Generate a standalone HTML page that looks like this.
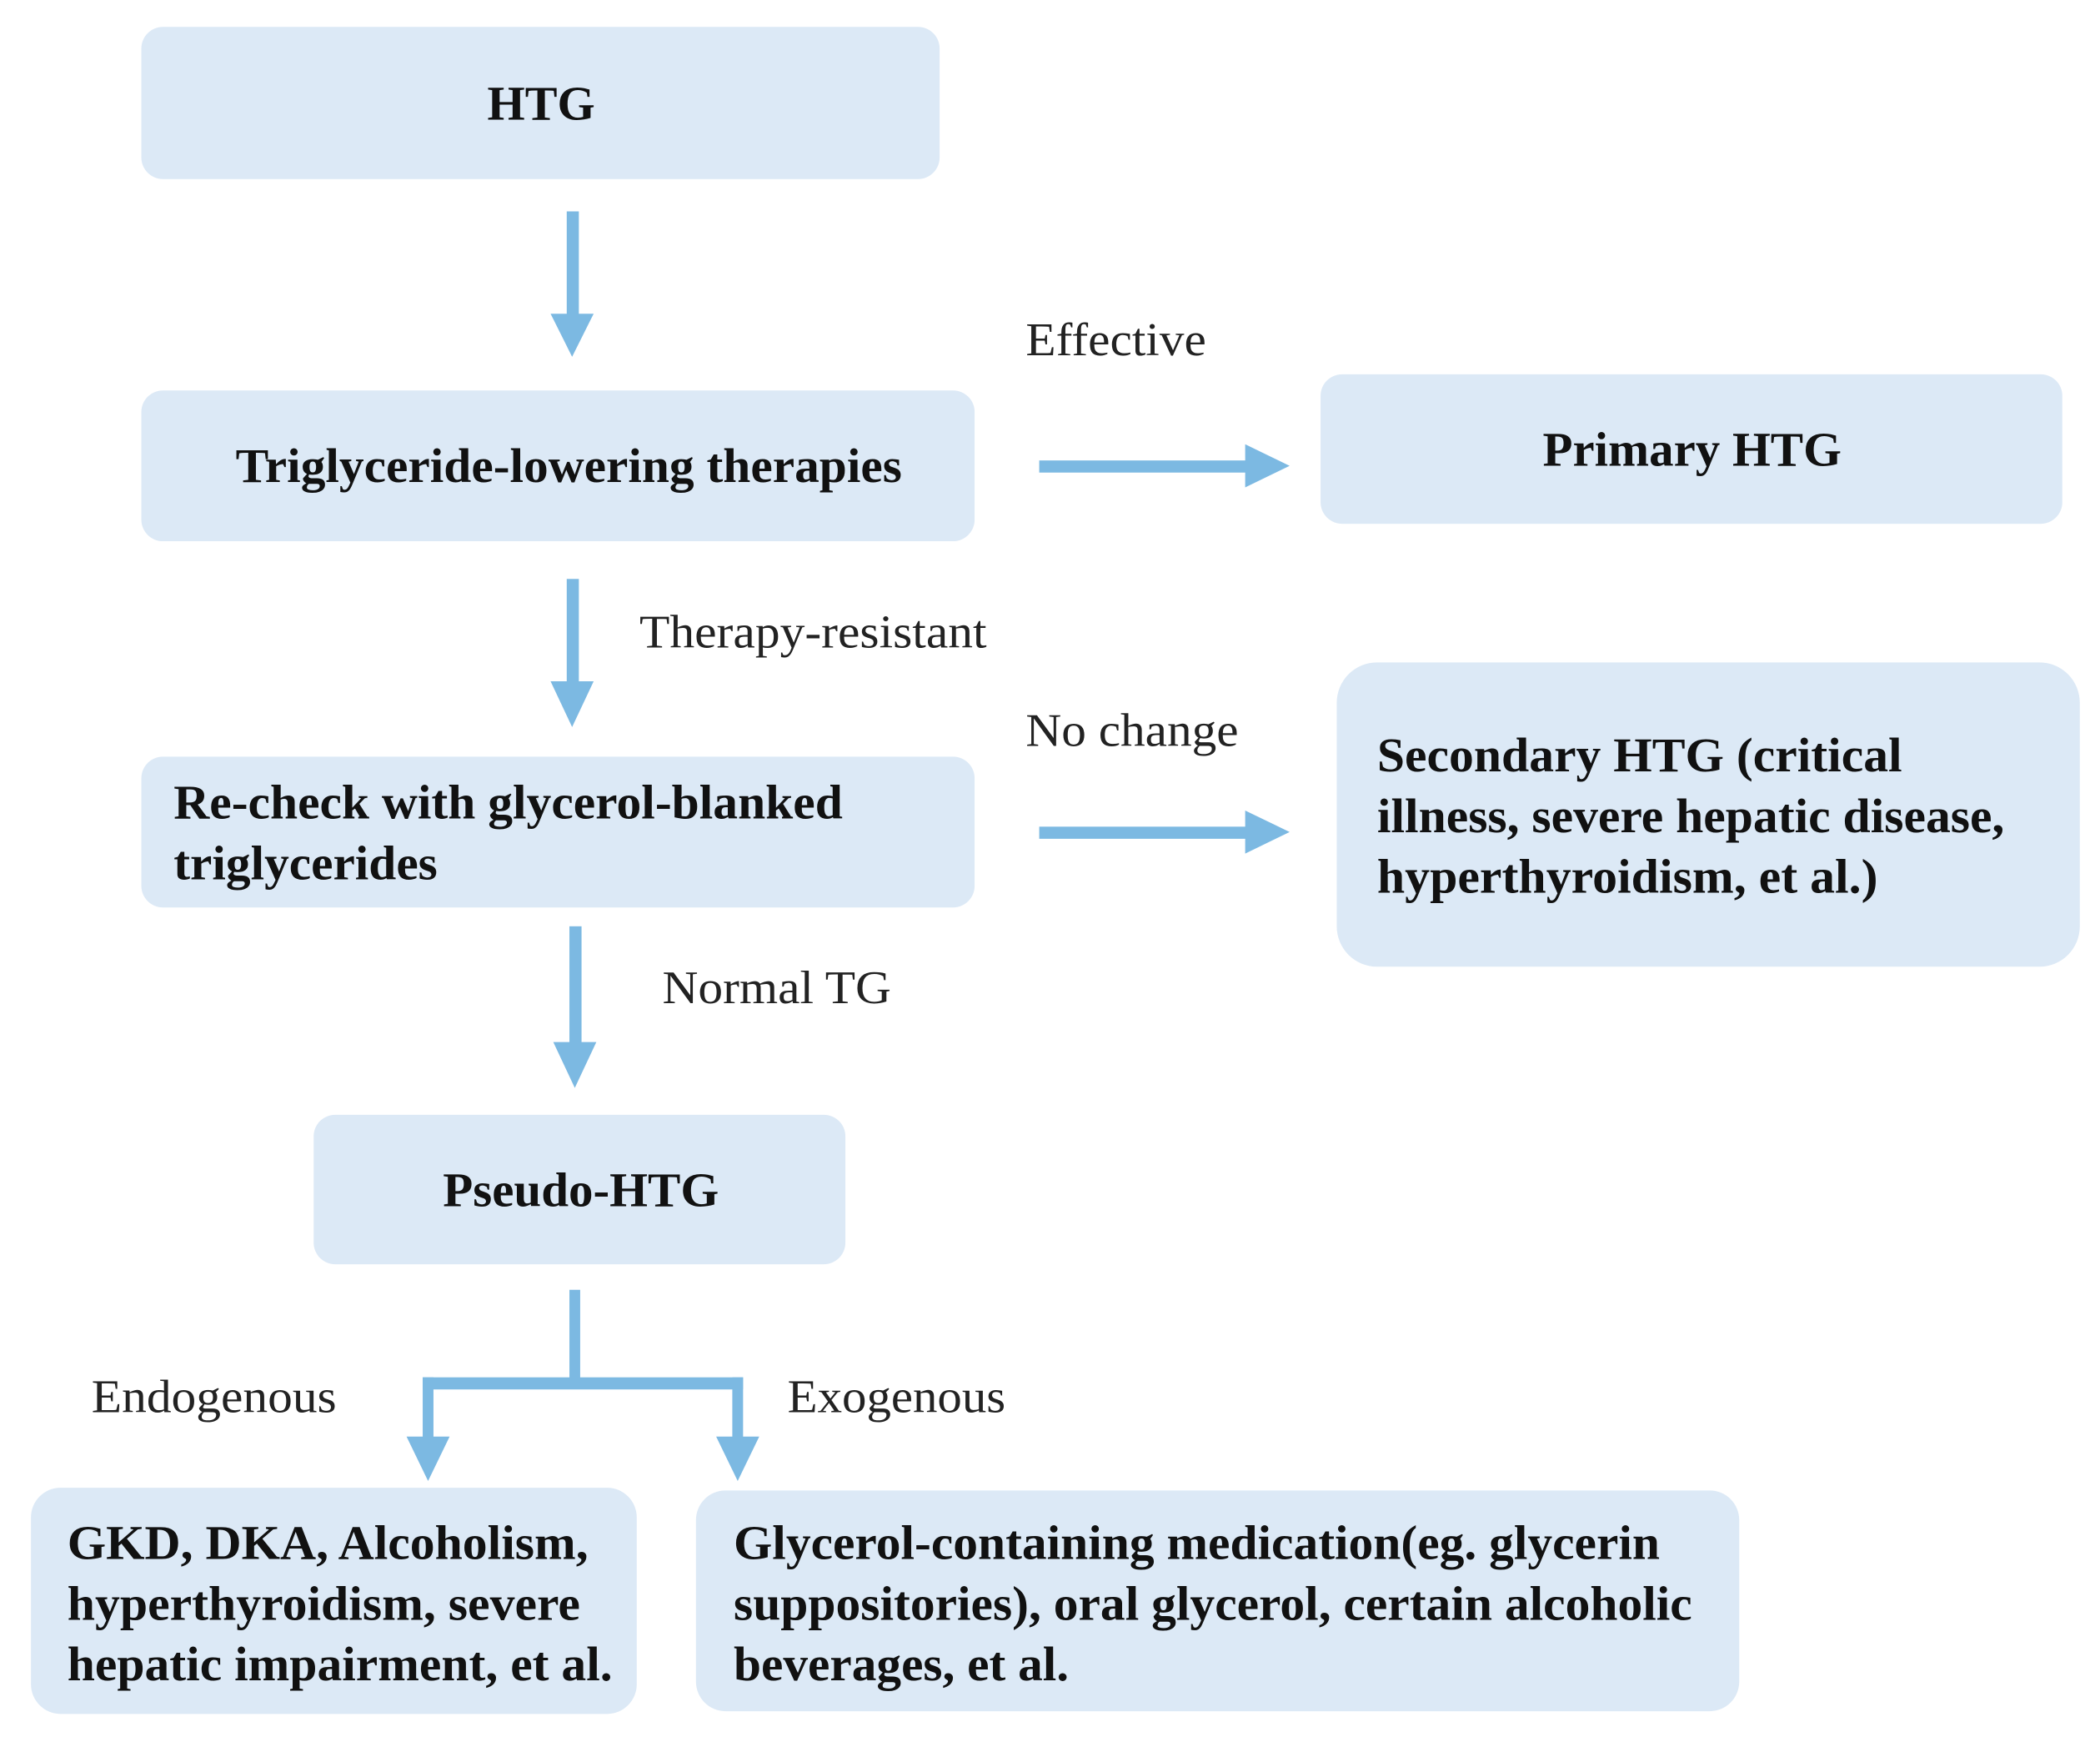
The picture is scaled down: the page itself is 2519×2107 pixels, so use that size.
<!DOCTYPE html>
<html><head><meta charset="utf-8"><style>
html,body{margin:0;padding:0;background:#fff;}
svg{display:block;}
.b{font-family:"Liberation Serif",serif;font-weight:bold;font-size:36px;fill:#111;}
.n{font-family:"Liberation Serif",serif;font-size:35px;fill:#222;}
</style></head><body>
<svg width="2519" height="2107" viewBox="0 0 1560 1305" preserveAspectRatio="none" xmlns="http://www.w3.org/2000/svg">
<g fill="#dce9f6">
<rect x="105" y="20" width="593" height="113" rx="16"/>
<rect x="105" y="290" width="619" height="112" rx="16"/>
<rect x="981" y="278" width="551" height="111" rx="16"/>
<rect x="105" y="562" width="619" height="112" rx="16"/>
<rect x="993" y="492" width="552" height="226" rx="30"/>
<rect x="233" y="828" width="395" height="111" rx="16"/>
<rect x="23" y="1105" width="450" height="168" rx="22"/>
<rect x="517" y="1107" width="775" height="164" rx="22"/>
</g>
<g fill="#7cb9e2">
<rect x="421" y="157" width="9" height="80"/><polygon points="409,233 441,233 425,265"/>
<rect x="421" y="430" width="9" height="80"/><polygon points="409,506 441,506 425,540"/>
<rect x="423" y="688" width="9" height="90"/><polygon points="411,774 443,774 427,808"/>
<rect x="772" y="342" width="158" height="9"/><polygon points="925,330 925,362 958,346"/>
<rect x="772" y="614" width="158" height="9"/><polygon points="925,602 925,634 958,618"/>
<rect x="423" y="958" width="8" height="72"/>
<rect x="314" y="1023" width="238" height="9"/>
<rect x="314" y="1023" width="8" height="48"/><polygon points="302,1067 334,1067 318,1100"/>
<rect x="544" y="1023" width="8" height="48"/><polygon points="532,1067 564,1067 548,1100"/>
</g>
<text class="b" x="402" y="89" text-anchor="middle">HTG</text>
<text class="b" x="175" y="358" textLength="495" lengthAdjust="spacingAndGlyphs">Triglyceride-lowering therapies</text>
<text class="b" x="1146" y="346" textLength="222" lengthAdjust="spacingAndGlyphs">Primary HTG</text>
<text class="b" x="129" y="608" textLength="497" lengthAdjust="spacingAndGlyphs">Re-check with glycerol-blanked</text>
<text class="b" x="129" y="653" textLength="196" lengthAdjust="spacingAndGlyphs">triglycerides</text>
<text class="b" x="1023" y="573" textLength="390" lengthAdjust="spacingAndGlyphs">Secondary HTG (critical</text>
<text class="b" x="1023" y="618" textLength="466" lengthAdjust="spacingAndGlyphs">illness, severe hepatic disease,</text>
<text class="b" x="1023" y="663" textLength="372" lengthAdjust="spacingAndGlyphs">hyperthyroidism, et al.)</text>
<text class="b" x="329" y="896" textLength="205" lengthAdjust="spacingAndGlyphs">Pseudo-HTG</text>
<text class="b" x="50" y="1158" textLength="387" lengthAdjust="spacingAndGlyphs">GKD, DKA, Alcoholism,</text>
<text class="b" x="50" y="1203" textLength="381" lengthAdjust="spacingAndGlyphs">hyperthyroidism, severe</text>
<text class="b" x="50" y="1248" textLength="405" lengthAdjust="spacingAndGlyphs">hepatic impairment, et al.</text>
<text class="b" x="545" y="1158" textLength="688" lengthAdjust="spacingAndGlyphs">Glycerol-containing medication(eg. glycerin</text>
<text class="b" x="545" y="1203" textLength="712" lengthAdjust="spacingAndGlyphs">suppositories), oral glycerol, certain alcoholic</text>
<text class="b" x="545" y="1248" textLength="249" lengthAdjust="spacingAndGlyphs">beverages, et al.</text>
<text class="n" x="762" y="264" textLength="134" lengthAdjust="spacingAndGlyphs">Effective</text>
<text class="n" x="475" y="481" textLength="258" lengthAdjust="spacingAndGlyphs">Therapy-resistant</text>
<text class="n" x="762" y="554" textLength="158" lengthAdjust="spacingAndGlyphs">No change</text>
<text class="n" x="492" y="745" textLength="170" lengthAdjust="spacingAndGlyphs">Normal TG</text>
<text class="n" x="68" y="1049" textLength="182" lengthAdjust="spacingAndGlyphs">Endogenous</text>
<text class="n" x="585" y="1049" textLength="162" lengthAdjust="spacingAndGlyphs">Exogenous</text>
</svg>
</body></html>
